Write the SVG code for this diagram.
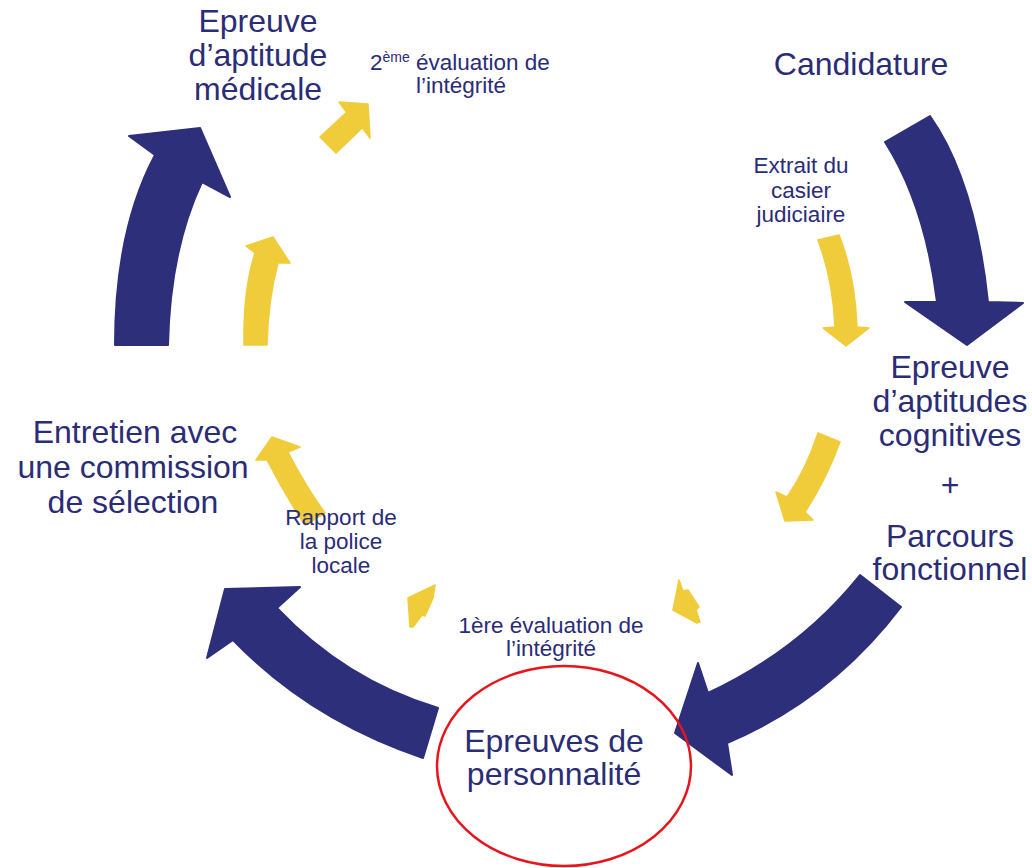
<svg xmlns="http://www.w3.org/2000/svg" width="1032" height="868" viewBox="0 0 1032 868">
<style>
.big{font-family:"Liberation Sans",Arial,sans-serif;font-size:32px;fill:#2B2C76;text-anchor:middle}
.small{font-family:"Liberation Sans",Arial,sans-serif;font-size:22.5px;fill:#2B2C76;text-anchor:middle}
.start{text-anchor:start}
.navy{fill:#2E2F7B;stroke:#2E2F7B;stroke-width:2;stroke-linejoin:round}
.yel{fill:#F0CC3A;stroke:#F0CC3A;stroke-width:1.5;stroke-linejoin:round}
</style>
<rect width="1032" height="868" fill="#ffffff"/>
<g id="connectors">
<path id="a-medicale" class="navy" d="M115,345 Q115,230 155,155 L129,136 L200,128 L230,197 L202,182 Q170,250 168,345 Z"/>
<path id="a-candidature" class="navy" d="M885,142 L930,116 Q975,180 988,302 L1023,303 L967,345 L905,302 L937,302 Q925,205 885,142 Z"/>
<path id="a-personnalite" class="navy" d="M860,575 L901,607 Q830,700 727,743 L732,775 L675,733 L698,663 L708,693 Q800,650 860,575 Z"/>
<path id="a-entretien" class="navy" d="M438,708 L423,758 Q310,720 233,640 L207,658 L225,589 L300,587 L277,608 Q345,680 438,708 Z"/>
<path id="y-left" class="yel" d="M244,345 Q243,290 255,253 L246,246 L273,237 L290,263 L278,263 Q268,300 267,345 Z"/>
<path id="y-2eme" class="yel" d="M320,137 L346.6,112.3 L339,102 L368,104 L370,138 L362.4,127.7 L336,153 Z"/>
<path id="y-casier" class="yel" d="M818,240 L839,235 Q855,275 857,327 L869,328 L846,346 L823,328 L835,327 Q833,280 818,240 Z"/>
<path id="y-cognitives" class="yel" d="M818,433 L840,442 Q826,480 805,512 L813,520 L785,521 L776,492 L787,497 Q806,470 818,433 Z"/>
<path id="y-small-right" class="yel" d="M679,580 L683,591 L688,590 L699,607 L696,610 L700,622 L697,623 L673,610 Z"/>
<path id="y-small-left" class="yel" d="M435,585 L408,598 L410,627 L413,627 L422,615 L425,616 L433,598 Z"/>
<path id="y-rapport" class="yel" d="M305,525 Q285,495 267,460 L256,460 L272,437 L300,447 L288,452 Q306,487 325,513 Z"/>
</g>
<g id="node-medicale">
<text class="big" x="258" y="32">Epreuve</text>
<text class="big" x="258" y="66">d’aptitude</text>
<text class="big" x="258" y="100">médicale</text>
</g>
<g id="node-2eme">
<text class="small start" x="370" y="70">2<tspan font-size="14" dy="-8">ème</tspan><tspan dy="8"> évaluation de</tspan></text>
<text class="small" x="461" y="93">l’intégrité</text>
</g>
<g id="node-candidature">
<text class="big" x="861" y="75">Candidature</text>
</g>
<g id="node-casier">
<text class="small" x="801" y="173">Extrait du</text>
<text class="small" x="801" y="198">casier</text>
<text class="small" x="801" y="222">judiciaire</text>
</g>
<g id="node-cognitives">
<text class="big" x="950" y="378">Epreuve</text>
<text class="big" x="950" y="412">d’aptitudes</text>
<text class="big" x="950" y="446">cognitives</text>
<text class="big" x="950" y="496">+</text>
<text class="big" x="950" y="547">Parcours</text>
<text class="big" x="950" y="580">fonctionnel</text>
</g>
<g id="node-entretien">
<text class="big" x="135" y="443">Entretien avec</text>
<text class="big" x="133" y="478">une commission</text>
<text class="big" x="133" y="513">de sélection</text>
</g>
<g id="node-rapport">
<text class="small" x="341" y="525">Rapport de</text>
<text class="small" x="341" y="549">la police</text>
<text class="small" x="341" y="573">locale</text>
</g>
<g id="node-1ere">
<text class="small" x="551" y="633">1ère évaluation de</text>
<text class="small" x="551" y="656">l’intégrité</text>
</g>
<g id="node-personnalite">
<ellipse cx="564" cy="766" rx="127" ry="100" fill="none" stroke="#E8141B" stroke-width="2.5"/>
<text class="big" x="554" y="752">Epreuves de</text>
<text class="big" x="554" y="785">personnalité</text>
</g>
</svg>
